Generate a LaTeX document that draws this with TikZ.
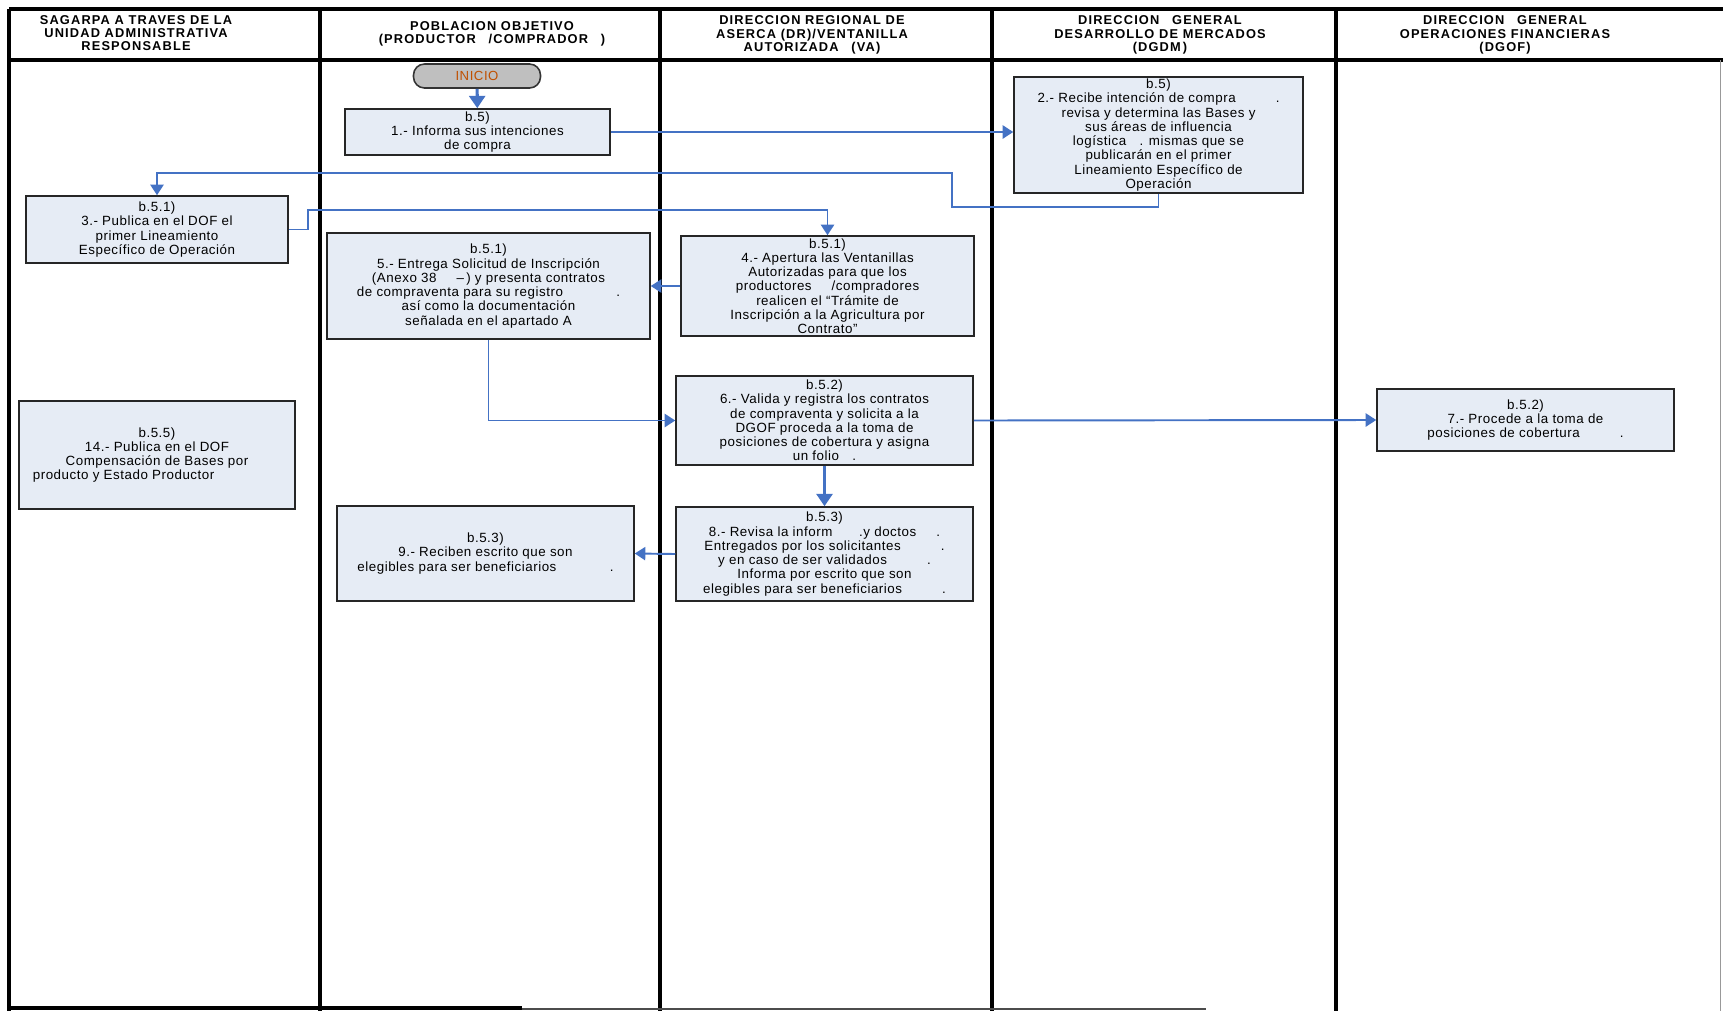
\documentclass[tikz,border=0pt]{standalone}
\usepackage{fontspec}
\setmainfont{Liberation Sans}
\newfontfamily\cajafont[Ligatures=TeX,LetterSpace=4]{Liberation Sans}
\newfontfamily\titulofont[Ligatures=TeX,LetterSpace=9]{Liberation Sans}
\usetikzlibrary{arrows.meta}
\definecolor{cajafondo}{RGB}{230,236,245}
\definecolor{flecha}{RGB}{68,114,196}
\definecolor{iniciofondo}{RGB}{191,191,191}
\definecolor{iniciotexto}{RGB}{192,80,0}

\begin{document}
\begin{tikzpicture}[x=0.02cm, y=-0.02cm,
    paso/.style ={rectangle, draw=black!85, line width=0.9pt, fill=cajafondo, align=center, inner sep=1pt, font=\cajafont\fontsize{7.6}{8.1}\selectfont},
    terminal/.style ={rectangle, rounded corners=0.22cm, draw=black!80, line width=0.9pt, fill=iniciofondo, text=iniciotexto, font=\cajafont\fontsize{7.5}{8}\selectfont},
    titulo/.style ={align=center, font=\titulofont\fontsize{7.3}{7.6}\selectfont\bfseries},
    carril/.style ={line width=2.8pt},
    flujo/.style ={draw=flecha, line width=1.1pt, -{Triangle[width=7.5pt,length=6pt]}},
    flujog/.style ={draw=flecha, line width=1.8pt, -{Triangle[width=9pt,length=7pt]}}]
   \useasboundingbox (0,0) rectangle (1723,1011);
   \draw[line width=2.3pt] (9,9) -- (1723,9);
   \draw[line width=2.3pt] (9,60) -- (1723,60);
   \draw[line width=2.4pt] (9,9) -- (9,1011);
   \draw[carril] (320,9) -- (320,1011);
   \draw[carril] (660,9) -- (660,1011);
   \draw[line width=2.2pt] (992,9) -- (992,1011);
   \draw[line width=2.2pt] (1336,9) -- (1336,1011);
   \draw[line width=2.4pt] (9,1008) -- (522,1008);
   \draw[line width=1pt, black!70] (522,1009) -- (1206,1009);
   \draw[line width=0.5pt, black!40] (1720,60) -- (1720,1011);
   \node[titulo] (H1) at (136,33) {SAGARPA A TRAVES DE LA\\ UNIDAD ADMINISTRATIVA\\ RESPONSABLE};
   \node[titulo] (H2) at (492,34) {POBLACION OBJETIVO\\ (PRODUCTOR\quad /COMPRADOR\quad )};
   \node[titulo] (H3) at (812,35) {DIRECCION REGIONAL DE\\ ASERCA (DR)/VENTANILLA\\ AUTORIZADA\quad (VA)};
   \node[titulo] (H4) at (1160,35) {DIRECCION\quad GENERAL\\ DESARROLLO DE MERCADOS\\ (DGDM\,)};
   \node[titulo] (H5) at (1505,35) {DIRECCION\quad GENERAL\\ OPERACIONES FINANCIERAS\\ (DGOF)};
   \node[terminal, minimum width=2.54cm, minimum height=0.48cm] (I) at (477,76) {INICIO};
   \node[paso, minimum width=5.3cm, minimum height=0.92cm] (B1) at (477.5,132) {b.5)\\ 1.- Informa sus intenciones\\ de compra};
   \node[paso, minimum width=5.78cm, minimum height=2.32cm] (B2) at (1158.5,135) {b.5)\\ 2.- Recibe intención de compra\hspace{3em}.\\ revisa y determina las Bases y\\ sus áreas de influencia\\ logística\hspace{1em}. mismas que se\\ publicarán en el primer\\ Lineamiento Específico de\\ Operación};
   \node[paso, minimum width=5.24cm, minimum height=1.34cm] (B3) at (157,229.5) {b.5.1)\\ 3.- Publica en el DOF el\\ primer Lineamiento\\ Específico de Operación};
   \node[paso, minimum width=5.86cm, minimum height=2cm] (B4) at (827.5,286) {b.5.1)\\ 4.- Apertura las Ventanillas\\ Autorizadas para que los\\ productores\hspace{1.5em}/compradores\\ realicen el ``Trámite de\\ Inscripción a la Agricultura por\\ Contrato''};
   \node[paso, minimum width=6.46cm, minimum height=2.12cm] (B5) at (488.5,286) {b.5.1)\\ 5.- Entrega Solicitud de Inscripción\\ (Anexo 38\hspace{1.5em}--\,) y presenta contratos\\ de compraventa para su registro\hspace{4em}.\\ así como la documentación\\ señalada en el apartado A};
   \node[paso, minimum width=5.94cm, minimum height=1.78cm] (B6) at (824.5,420.5) {b.5.2)\\ 6.- Valida y registra los contratos\\ de compraventa y solicita a la\\ DGOF proceda a la toma de\\ posiciones de cobertura y asigna\\ un folio\hspace{1em}.};
   \node[paso, minimum width=5.94cm, minimum height=1.24cm] (B7) at (1525.5,420) {b.5.2)\\ 7.- Procede a la toma de\\ posiciones de cobertura\hspace{3em}.};
   \node[paso, minimum width=5.94cm, minimum height=1.88cm] (B8) at (824.5,554) {b.5.3)\\ 8.- Revisa la inform\hspace{2em}.y doctos\hspace{1.5em}.\\ Entregados por los solicitantes\hspace{3em}.\\ y en caso de ser validados\hspace{3em}.\\ Informa por escrito que son\\ elegibles para ser beneficiarios\hspace{3em}.};
   \node[paso, minimum width=5.94cm, minimum height=1.9cm] (B9) at (485.5,553.5) {b.5.3)\\ 9.- Reciben escrito que son\\ elegibles para ser beneficiarios\hspace{4em}.};
   \node[paso, minimum width=5.52cm, minimum height=2.16cm] (B14) at (157,455) {b.5.5)\\ 14.- Publica en el DOF\hspace*{2em}\\ Compensación de Bases por\hspace*{5em}\\ producto y Estado Productor\hspace*{5em}};
   \coordinate (c1) at (952,207);
   \coordinate (c2) at (952,173);
   \coordinate (c3) at (308,210);
   \draw[flujog] (I) -- (B1);
   \draw[flujo] (B1) -- (B1 -| B2.west);
   \draw[flujo] (B2.south) |- (c1) -- (c2) -| (B3.north);
   \draw[flujo] (B3.east) -| (c3) -| (B4.north);
   \draw[flujo] (B4.west) -- (B5.east);
   \draw[flujo] (B5.south) |- (B6.west);
   \draw[flujo] (B6.east) -- (B7.west);
   \draw[flujog] (B6.south) -- (B8.north);
   \draw[flujo] (B8.west) -- (B9.east);
\end{tikzpicture}
\end{document}
